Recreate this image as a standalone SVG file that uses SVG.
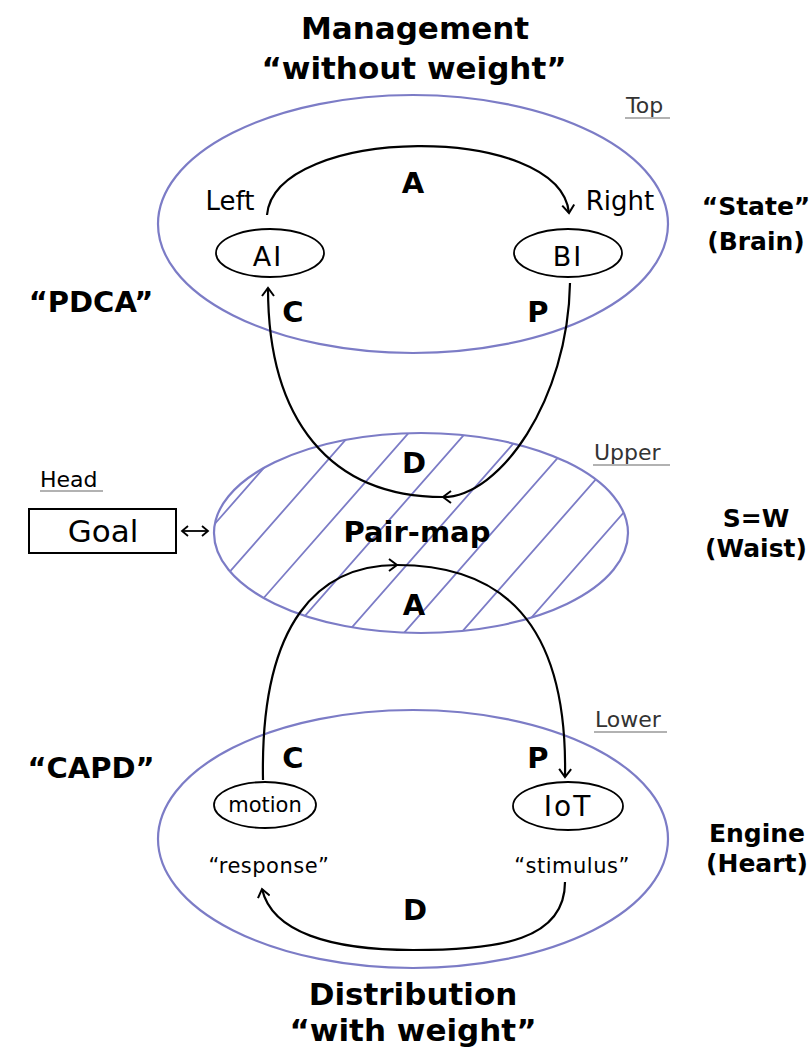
<svg xmlns="http://www.w3.org/2000/svg" width="811" height="1053" viewBox="0 0 811 1053">
<style>
.zone{fill:none;stroke:#7c7cc6;stroke-width:2.2}
.node{fill:#fff;stroke:#000;stroke-width:1.8}
.conn{fill:none;stroke:#000;stroke-width:2.2}
.t{font-family:"DejaVu Sans","Liberation Sans",sans-serif;fill:#000}
.ttl{font-size:31px;font-weight:bold;text-anchor:middle}
.side{font-size:25px;font-weight:bold;text-anchor:middle}
.lab{font-size:29px;font-weight:bold;text-anchor:middle}
.lvl{font-size:22px;fill:#333}
.ul{stroke:#999;stroke-width:1.5}
.hatch{fill:none;stroke:#7c7cc6;stroke-width:1.8}
</style>
<defs>
<marker id="arr" markerWidth="14" markerHeight="14" viewBox="-10 -7 12 14" refX="0" refY="0" orient="auto" markerUnits="userSpaceOnUse">
<path d="M-8,-6 L0,0 L-8,6" fill="none" stroke="#000" stroke-width="2"/>
</marker>
<marker id="sarr" markerWidth="10" markerHeight="12" viewBox="-8 -6 10 12" refX="0" refY="0" orient="auto-start-reverse" markerUnits="userSpaceOnUse">
<path d="M-6,-5 L0,0 L-6,5" fill="none" stroke="#000" stroke-width="1.8"/>
</marker>
<clipPath id="midclip"><ellipse cx="421" cy="533" rx="207" ry="100"/></clipPath>
</defs>

<!-- titles -->
<text class="t ttl" x="415" y="39">Management</text>
<text class="t ttl" x="414" y="79">“without weight”</text>
<text class="t ttl" x="413" y="1005">Distribution</text>
<text class="t ttl" x="413" y="1041">“with weight”</text>

<!-- zones -->
<g id="zone-top">
<ellipse class="zone" cx="413" cy="224" rx="255" ry="129"/>
<text class="t lvl" x="626" y="113">Top</text>
<line class="ul" x1="625" y1="118" x2="670" y2="118"/>
</g>
<g id="zone-upper">
<g clip-path="url(#midclip)">
<path class="hatch" d="M192,420 L-10,650 M249,420 L47,650 M306,420 L104,650 M363,420 L161,650 M420,420 L218,650 M477,420 L275,650 M534,420 L332,650 M591,420 L389,650 M648,420 L446,650 M705,420 L503,650 M762,420 L560,650 M819,420 L617,650 M876,420 L674,650"/>
</g>
<ellipse class="zone" cx="421" cy="533" rx="207" ry="100"/>
<text class="t lvl" x="594" y="460">Upper</text>
<line class="ul" x1="593" y1="465" x2="670" y2="465"/>
<text class="t lab" x="417" y="542">Pair-map</text>
</g>
<g id="zone-lower">
<ellipse class="zone" cx="413" cy="839" rx="255" ry="129"/>
<text class="t lvl" x="595" y="727">Lower</text>
<line class="ul" x1="594" y1="732" x2="667" y2="732"/>
</g>

<!-- side labels -->
<text class="t side" x="91" y="312" style="font-size:29px">“PDCA”</text>
<text class="t side" x="91" y="778" style="font-size:29px">“CAPD”</text>
<text class="t side" x="756" y="215">“State”</text>
<text class="t side" x="756" y="250">(Brain)</text>
<text class="t side" x="756" y="527">S=W</text>
<text class="t side" x="756" y="557">(Waist)</text>
<text class="t side" x="757" y="842">Engine</text>
<text class="t side" x="757" y="872">(Heart)</text>

<!-- nodes -->
<g id="node-ai">
<ellipse class="node" cx="270" cy="253" rx="54" ry="24"/>
<text class="t" x="268" y="266" font-size="27" text-anchor="middle" letter-spacing="2">AI</text>
</g>
<g id="node-bi">
<ellipse class="node" cx="568" cy="253" rx="54" ry="24"/>
<text class="t" x="568" y="266" font-size="27" text-anchor="middle" letter-spacing="2">BI</text>
</g>
<g id="node-goal">
<text class="t" x="40" y="487" font-size="22" fill="#333">Head</text>
<line class="ul" x1="40" y1="491" x2="103" y2="491"/>
<rect x="29" y="509" width="147" height="44" fill="#fff" stroke="#000" stroke-width="2"/>
<text class="t" x="103" y="542" font-size="31" text-anchor="middle">Goal</text>
</g>
<g id="node-motion">
<ellipse class="node" cx="265" cy="805" rx="51" ry="23"/>
<text class="t" x="265" y="812" font-size="21" text-anchor="middle">motion</text>
</g>
<g id="node-iot">
<ellipse class="node" cx="568" cy="806" rx="55" ry="24"/>
<text class="t" x="568" y="816" font-size="28" text-anchor="middle" letter-spacing="2">IoT</text>
</g>

<!-- node captions -->
<text class="t" x="230" y="210" font-size="26" text-anchor="middle">Left</text>
<text class="t" x="620" y="210" font-size="26" text-anchor="middle">Right</text>
<text class="t" x="269" y="873" font-size="21" text-anchor="middle" letter-spacing="0.5">“response”</text>
<text class="t" x="572" y="873" font-size="21" text-anchor="middle" letter-spacing="0.5">“stimulus”</text>

<!-- connectors -->
<g id="connectors">
<path class="conn" d="M267,215 C275,125 560,122 569,213" marker-end="url(#arr)"/>
<path class="conn" d="M570,283 C568,400 500,497 443,497 C330,497 268,420 268,288" marker-mid="url(#arr)" marker-end="url(#arr)"/>
<path class="conn" d="M263,780 C260,620 320,565 397,565 C500,565 568,620 565,777" marker-mid="url(#arr)" marker-end="url(#arr)"/>
<path class="conn" d="M565,882 C565,940 500,950 413,950 C330,950 272,932 262,889" marker-end="url(#arr)"/>
<path class="conn" d="M182,531 L208,531" marker-start="url(#sarr)" marker-end="url(#sarr)" style="stroke-width:1.8"/>
</g>

<!-- flow labels -->
<text class="t lab" x="413" y="193">A</text>
<text class="t lab" x="293" y="322">C</text>
<text class="t lab" x="538" y="322">P</text>
<text class="t lab" x="414" y="473">D</text>
<text class="t lab" x="414" y="615">A</text>
<text class="t lab" x="293" y="768">C</text>
<text class="t lab" x="538" y="768">P</text>
<text class="t lab" x="415" y="920">D</text>
</svg>
